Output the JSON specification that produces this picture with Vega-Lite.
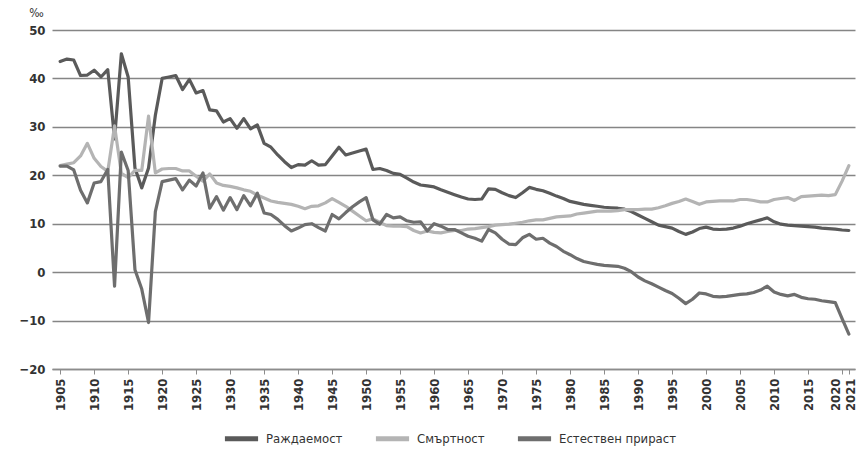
{
  "$schema": "https://vega.github.io/schema/vega-lite/v6.json",
  "width": 803,
  "height": 339,
  "autosize": {"type": "none"},
  "padding": {"left": 52, "top": 30, "right": 10, "bottom": 88},
  "background": "white",
  "config": {
    "view": {"stroke": null},
    "font": "DejaVu Sans Condensed, Liberation Sans Narrow, sans-serif"
  },
  "data": {
    "values": [
      {"year": 1905, "Раждаемост": 43.5, "Смъртност": 22.0, "Естествен прираст": 21.9},
      {"year": 1906, "Раждаемост": 44.0, "Смъртност": 22.3, "Естествен прираст": 21.9},
      {"year": 1907, "Раждаемост": 43.8, "Смъртност": 22.6, "Естествен прираст": 21.1},
      {"year": 1908, "Раждаемост": 40.6, "Смъртност": 24.0, "Естествен прираст": 16.9},
      {"year": 1909, "Раждаемост": 40.7, "Смъртност": 26.6, "Естествен прираст": 14.3},
      {"year": 1910, "Раждаемост": 41.7, "Смъртност": 23.5, "Естествен прираст": 18.4},
      {"year": 1911, "Раждаемост": 40.3, "Смъртност": 21.8, "Естествен прираст": 18.7},
      {"year": 1912, "Раждаемост": 41.8, "Смъртност": 20.8, "Естествен прираст": 21.2},
      {"year": 1913, "Раждаемост": 27.5, "Смъртност": 30.2, "Естествен прираст": -2.9},
      {"year": 1914, "Раждаемост": 45.1, "Смъртност": 20.4, "Естествен прираст": 24.8},
      {"year": 1915, "Раждаемост": 40.3, "Смъртност": 19.5, "Естествен прираст": 21.0},
      {"year": 1916, "Раждаемост": 21.5, "Смъртност": 21.0, "Естествен прираст": 0.5},
      {"year": 1917, "Раждаемост": 17.4, "Смъртност": 21.0, "Естествен прираст": -3.5},
      {"year": 1918, "Раждаемост": 21.5, "Смъртност": 32.2, "Естествен прираст": -10.4},
      {"year": 1919, "Раждаемост": 32.4, "Смъртност": 20.5, "Естествен прираст": 12.5},
      {"year": 1920, "Раждаемост": 40.0, "Смъртност": 21.3, "Естествен прираст": 18.7},
      {"year": 1921, "Раждаемост": 40.3, "Смъртност": 21.4, "Естествен прираст": 19.0},
      {"year": 1922, "Раждаемост": 40.6, "Смъртност": 21.4, "Естествен прираст": 19.3},
      {"year": 1923, "Раждаемост": 37.7, "Смъртност": 20.9, "Естествен прираст": 17.0},
      {"year": 1924, "Раждаемост": 39.8, "Смъртност": 20.9, "Естествен прираст": 19.0},
      {"year": 1925, "Раждаемост": 37.0, "Смъртност": 19.8, "Естествен прираст": 17.8},
      {"year": 1926, "Раждаемост": 37.5, "Смъртност": 18.8, "Естествен прираст": 20.5},
      {"year": 1927, "Раждаемост": 33.5, "Смъртност": 20.3, "Естествен прираст": 13.2},
      {"year": 1928, "Раждаемост": 33.3, "Смъртност": 18.4, "Естествен прираст": 15.6},
      {"year": 1929, "Раждаемост": 31.0, "Смъртност": 17.9, "Естествен прираст": 12.8},
      {"year": 1930, "Раждаемост": 31.7, "Смъртност": 17.7, "Естествен прираст": 15.4},
      {"year": 1931, "Раждаемост": 29.7, "Смъртност": 17.4, "Естествен прираст": 12.9},
      {"year": 1932, "Раждаемост": 31.7, "Смъртност": 17.0, "Естествен прираст": 15.8},
      {"year": 1933, "Раждаемост": 29.6, "Смъртност": 16.7, "Естествен прираст": 13.7},
      {"year": 1934, "Раждаемост": 30.4, "Смъртност": 15.9, "Естествен прираст": 16.3},
      {"year": 1935, "Раждаемост": 26.6, "Смъртност": 15.3, "Естествен прираст": 12.2},
      {"year": 1936, "Раждаемост": 25.8, "Смъртност": 14.7, "Естествен прираст": 11.9},
      {"year": 1937, "Раждаемост": 24.2, "Смъртност": 14.4, "Естествен прираст": 10.9},
      {"year": 1938, "Раждаемост": 22.8, "Смъртност": 14.2, "Естествен прираст": 9.6},
      {"year": 1939, "Раждаемост": 21.6, "Смъртност": 14.0, "Естествен прираст": 8.5},
      {"year": 1940, "Раждаемост": 22.2, "Смъртност": 13.6, "Естествен прираст": 9.1},
      {"year": 1941, "Раждаемост": 22.1, "Смъртност": 13.1, "Естествен прираст": 9.8},
      {"year": 1942, "Раждаемост": 23.0, "Смъртност": 13.6, "Естествен прираст": 10.0},
      {"year": 1943, "Раждаемост": 22.1, "Смъртност": 13.7, "Естествен прираст": 9.2},
      {"year": 1944, "Раждаемост": 22.2, "Смъртност": 14.3, "Естествен прираст": 8.5},
      {"year": 1945, "Раждаемост": 24.0, "Смъртност": 15.2, "Естествен прираст": 11.9},
      {"year": 1946, "Раждаемост": 25.8, "Смъртност": 14.4, "Естествен прираст": 11.0},
      {"year": 1947, "Раждаемост": 24.2, "Смъртност": 13.6, "Естествен прираст": 12.3},
      {"year": 1948, "Раждаемост": 24.6, "Смъртност": 12.6, "Естествен прираст": 13.5},
      {"year": 1949, "Раждаемост": 25.0, "Смъртност": 11.6, "Естествен прираст": 14.5},
      {"year": 1950, "Раждаемост": 25.4, "Смъртност": 10.6, "Естествен прираст": 15.4},
      {"year": 1951, "Раждаемост": 21.2, "Смъртност": 11.0, "Естествен прираст": 10.8},
      {"year": 1952, "Раждаемост": 21.4, "Смъртност": 10.3, "Естествен прираст": 9.9},
      {"year": 1953, "Раждаемост": 21.0, "Смъртност": 9.6, "Естествен прираст": 11.9},
      {"year": 1954, "Раждаемост": 20.4, "Смъртност": 9.5, "Естествен прираст": 11.2},
      {"year": 1955, "Раждаемост": 20.2, "Смъртност": 9.5, "Естествен прираст": 11.4},
      {"year": 1956, "Раждаемост": 19.4, "Смъртност": 9.4, "Естествен прираст": 10.6},
      {"year": 1957, "Раждаемост": 18.6, "Смъртност": 8.6, "Естествен прираст": 10.3},
      {"year": 1958, "Раждаемост": 18.0, "Смъртност": 8.1, "Естествен прираст": 10.4},
      {"year": 1959, "Раждаемост": 17.8, "Смъртност": 8.5, "Естествен прираст": 8.5},
      {"year": 1960, "Раждаемост": 17.6, "Смъртност": 8.2, "Естествен прираст": 10.0},
      {"year": 1961, "Раждаемост": 17.0, "Смъртност": 8.1, "Естествен прираст": 9.5},
      {"year": 1962, "Раждаемост": 16.5, "Смъртност": 8.4, "Естествен прираст": 8.8},
      {"year": 1963, "Раждаемост": 16.0, "Смъртност": 8.6, "Естествен прираст": 8.8},
      {"year": 1964, "Раждаемост": 15.5, "Смъртност": 8.6, "Естествен прираст": 8.1},
      {"year": 1965, "Раждаемост": 15.1, "Смъртност": 8.9, "Естествен прираст": 7.4},
      {"year": 1966, "Раждаемост": 15.0, "Смъртност": 9.0, "Естествен прираст": 7.0},
      {"year": 1967, "Раждаемост": 15.1, "Смъртност": 9.2, "Естествен прираст": 6.4},
      {"year": 1968, "Раждаемост": 17.2, "Смъртност": 9.4, "Естествен прираст": 8.8},
      {"year": 1969, "Раждаемост": 17.1, "Смъртност": 9.7, "Естествен прираст": 8.1},
      {"year": 1970, "Раждаемост": 16.4, "Смъртност": 9.8, "Естествен прираст": 6.8},
      {"year": 1971, "Раждаемост": 15.8, "Смъртност": 9.9, "Естествен прираст": 5.8},
      {"year": 1972, "Раждаемост": 15.4, "Смъртност": 10.1, "Естествен прираст": 5.7},
      {"year": 1973, "Раждаемост": 16.4, "Смъртност": 10.3, "Естествен прираст": 7.1},
      {"year": 1974, "Раждаемост": 17.5, "Смъртност": 10.6, "Естествен прираст": 7.8},
      {"year": 1975, "Раждаемост": 17.1, "Смъртност": 10.8, "Естествен прираст": 6.8},
      {"year": 1976, "Раждаемост": 16.8, "Смъртност": 10.8, "Естествен прираст": 7.0},
      {"year": 1977, "Раждаемост": 16.3, "Смъртност": 11.1, "Естествен прираст": 6.0},
      {"year": 1978, "Раждаемост": 15.7, "Смъртност": 11.4, "Естествен прираст": 5.3},
      {"year": 1979, "Раждаемост": 15.2, "Смъртност": 11.5, "Естествен прираст": 4.3},
      {"year": 1980, "Раждаемост": 14.6, "Смъртност": 11.6, "Естествен прираст": 3.6},
      {"year": 1981, "Раждаемост": 14.3, "Смъртност": 12.0, "Естествен прираст": 2.8},
      {"year": 1982, "Раждаемост": 14.0, "Смъртност": 12.2, "Естествен прираст": 2.2},
      {"year": 1983, "Раждаемост": 13.8, "Смъртност": 12.4, "Естествен прираст": 1.9},
      {"year": 1984, "Раждаемост": 13.6, "Смъртност": 12.6, "Естествен прираст": 1.6},
      {"year": 1985, "Раждаемост": 13.4, "Смъртност": 12.6, "Естествен прираст": 1.4},
      {"year": 1986, "Раждаемост": 13.3, "Смъртност": 12.6, "Естествен прираст": 1.3},
      {"year": 1987, "Раждаемост": 13.2, "Смъртност": 12.7, "Естествен прираст": 1.2},
      {"year": 1988, "Раждаемост": 13.0, "Смъртност": 12.9, "Естествен прираст": 0.8},
      {"year": 1989, "Раждаемост": 12.5, "Смъртност": 12.9, "Естествен прираст": 0.1},
      {"year": 1990, "Раждаемост": 11.8, "Смъртност": 12.9, "Естествен прираст": -1.0},
      {"year": 1991, "Раждаемост": 11.1, "Смъртност": 13.0, "Естествен прираст": -1.8},
      {"year": 1992, "Раждаемост": 10.4, "Смъртност": 13.0, "Естествен прираст": -2.4},
      {"year": 1993, "Раждаемост": 9.7, "Смъртност": 13.3, "Естествен прираст": -3.1},
      {"year": 1994, "Раждаемост": 9.4, "Смъртност": 13.7, "Естествен прираст": -3.8},
      {"year": 1995, "Раждаемост": 9.1, "Смъртност": 14.2, "Естествен прираст": -4.4},
      {"year": 1996, "Раждаемост": 8.4, "Смъртност": 14.6, "Естествен прираст": -5.4},
      {"year": 1997, "Раждаемост": 7.8, "Смъртност": 15.1, "Естествен прираст": -6.5},
      {"year": 1998, "Раждаемост": 8.3, "Смъртност": 14.6, "Естествен прираст": -5.6},
      {"year": 1999, "Раждаемост": 9.0, "Смъртност": 14.0, "Естествен прираст": -4.3},
      {"year": 2000, "Раждаемост": 9.3, "Смъртност": 14.5, "Естествен прираст": -4.5},
      {"year": 2001, "Раждаемост": 8.9, "Смъртност": 14.6, "Естествен прираст": -5.0},
      {"year": 2002, "Раждаемост": 8.8, "Смъртност": 14.7, "Естествен прираст": -5.1},
      {"year": 2003, "Раждаемост": 8.9, "Смъртност": 14.7, "Естествен прираст": -5.0},
      {"year": 2004, "Раждаемост": 9.1, "Смъртност": 14.7, "Естествен прираст": -4.8},
      {"year": 2005, "Раждаемост": 9.5, "Смъртност": 15.0, "Естествен прираст": -4.6},
      {"year": 2006, "Раждаемост": 10.0, "Смъртност": 15.0, "Естествен прираст": -4.5},
      {"year": 2007, "Раждаемост": 10.4, "Смъртност": 14.8, "Естествен прираст": -4.2},
      {"year": 2008, "Раждаемост": 10.8, "Смъртност": 14.5, "Естествен прираст": -3.7},
      {"year": 2009, "Раждаемост": 11.2, "Смъртност": 14.5, "Естествен прираст": -2.9},
      {"year": 2010, "Раждаемост": 10.4, "Смъртност": 15.0, "Естествен прираст": -4.1},
      {"year": 2011, "Раждаемост": 9.9, "Смъртност": 15.2, "Естествен прираст": -4.6},
      {"year": 2012, "Раждаемост": 9.7, "Смъртност": 15.4, "Естествен прираст": -4.9},
      {"year": 2013, "Раждаемост": 9.6, "Смъртност": 14.8, "Естествен прираст": -4.6},
      {"year": 2014, "Раждаемост": 9.5, "Смъртност": 15.6, "Естествен прираст": -5.2},
      {"year": 2015, "Раждаемост": 9.4, "Смъртност": 15.7, "Естествен прираст": -5.5},
      {"year": 2016, "Раждаемост": 9.3, "Смъртност": 15.8, "Естествен прираст": -5.6},
      {"year": 2017, "Раждаемост": 9.1, "Смъртност": 15.9, "Естествен прираст": -5.9},
      {"year": 2018, "Раждаемост": 9.0, "Смъртност": 15.8, "Естествен прираст": -6.1},
      {"year": 2019, "Раждаемост": 8.9, "Смъртност": 16.0, "Естествен прираст": -6.3},
      {"year": 2020, "Раждаемост": 8.7, "Смъртност": 18.8, "Естествен прираст": -9.6},
      {"year": 2021, "Раждаемост": 8.6, "Смъртност": 22.0, "Естествен прираст": -12.8}
    ]
  },
  "transform": [
    {"fold": ["Раждаемост", "Смъртност", "Естествен прираст"], "as": ["series", "value"]}
  ],
  "mark": {"type": "line", "strokeWidth": 3.2, "strokeJoin": "round", "strokeCap": "round"},
  "encoding": {
    "x": {
      "field": "year",
      "type": "quantitative",
      "scale": {"domain": [1903.8, 2021.9], "nice": false, "zero": false},
      "axis": {
        "title": null,
        "values": [1905, 1910, 1915, 1920, 1925, 1930, 1935, 1940, 1945, 1950, 1955, 1960, 1965, 1970, 1975, 1980, 1985, 1990, 1995, 2000, 2005, 2010, 2015, 2020, 2021],
        "format": "d",
        "labelAngle": -90,
        "labelAlign": "right",
        "labelBaseline": "middle",
        "labelFontSize": 13,
        "labelFontWeight": "bold",
        "labelColor": "#333333",
        "labelPadding": 4,
        "labelOffset": {"condition": [{"test": "datum.value == 2020", "value": -7}, {"test": "datum.value == 2021", "value": 2}], "value": 0},
        "labelOverlap": false,
        "labelBound": false,
        "grid": false,
        "domain": true,
        "domainColor": "#8c8c8c",
        "domainWidth": 1.5,
        "ticks": true,
        "tickColor": "#8c8c8c",
        "tickSize": 5,
        "tickWidth": 1
      }
    },
    "y": {
      "field": "value",
      "type": "quantitative",
      "scale": {"domain": [-20, 50], "nice": false, "zero": false},
      "axis": {
        "title": "‰",
        "titleAngle": 0,
        "titleX": -16,
        "titleY": -18,
        "titleAlign": "center",
        "titleBaseline": "middle",
        "titleFontSize": 12,
        "titleFontWeight": "normal",
        "titleColor": "#333333",
        "values": [-20, -10, 0, 10, 20, 30, 40, 50],
        "labelFontSize": 13,
        "labelFontWeight": "bold",
        "labelColor": "#333333",
        "labelPadding": 7,
        "domain": false,
        "ticks": false,
        "grid": true,
        "gridColor": "#858585",
        "gridWidth": 1.5
      }
    },
    "color": {
      "field": "series",
      "type": "nominal",
      "sort": ["Раждаемост", "Смъртност", "Естествен прираст"],
      "scale": {
        "domain": ["Раждаемост", "Смъртност", "Естествен прираст"],
        "range": ["#5a5a5a", "#b4b4b4", "#6e6e6e"]
      },
      "legend": {
        "title": null,
        "orient": "none",
        "direction": "horizontal",
        "legendX": 170,
        "legendY": 389,
        "symbolType": "stroke",
        "symbolStrokeWidth": 5,
        "symbolSize": 1100,
        "labelFontSize": 13,
        "labelColor": "#333333",
        "labelOffset": 5,
        "columnPadding": 22
      }
    }
  }
}
